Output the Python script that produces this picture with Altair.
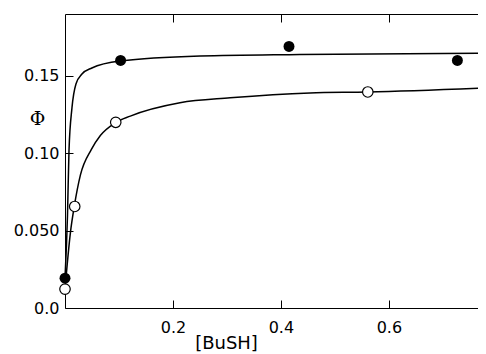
import altair as alt
import pandas as pd

# Measured data points
filled_x = [0.0, 0.103, 0.415, 0.727]
filled_y = [0.0193, 0.160, 0.169, 0.160]
open_x = [0.0, 0.018, 0.094, 0.561]
open_y = [0.0122, 0.0656, 0.120, 0.1396]

# Fitted curves
fit_f_x = [0.0, 0.0046, 0.0074, 0.0129, 0.0203, 0.0314, 0.0498, 0.103, 0.251, 0.435, 0.779]
fit_f_y = [0.0193, 0.0598, 0.1017, 0.1293, 0.1448, 0.1512, 0.1551, 0.1596, 0.1628, 0.1638, 0.1647]
fit_o_x = [0.0, 0.0101, 0.0175, 0.0286, 0.0489, 0.0655, 0.0932, 0.121, 0.213, 0.306, 0.454, 0.561, 0.778]
fit_o_y = [0.0122, 0.0489, 0.0663, 0.086, 0.1025, 0.1115, 0.1197, 0.1240, 0.1326, 0.1358, 0.139, 0.1396, 0.1422]

x_ticks = [0.2, 0.4, 0.6]
y_ticks = [0.0, 0.05, 0.10, 0.15]
y_ticks_right = [0.05, 0.10, 0.15]

df_f = pd.DataFrame({"x": filled_x, "y": filled_y})
df_o = pd.DataFrame({"x": open_x, "y": open_y})
df_cf = pd.DataFrame({"x": fit_f_x, "y": fit_f_y})
df_co = pd.DataFrame({"x": fit_o_x, "y": fit_o_y})

xs = alt.Scale(domain=[0, 0.78], nice=False, zero=False)
ys = alt.Scale(domain=[0, 0.19], nice=False, zero=False)

common = dict(domain=False, grid=False, tickSize=8, offset=-8, tickColor="black",
              tickWidth=1, labelColor="black", labelFont="DejaVu Sans", labelFontSize=16)

x_bottom = alt.X("x:Q", scale=xs, axis=alt.Axis(
    orient="bottom", values=x_ticks, format=".1f", labelPadding=11,
    title="[BuSH]", titleFont="DejaVu Sans", titleFontSize=18, titleFontWeight="normal",
    titleColor="black", titleX=161, titleY=43, titleAlign="center", titleBaseline="middle",
    **common))
y_left = alt.Y("y:Q", scale=ys, axis=alt.Axis(
    orient="left", values=y_ticks, labelPadding=6,
    labelExpr="datum.value == 0 ? '0.0' : (datum.value == 0.05 ? '0.050' : format(datum.value, '.2f'))",
    title="Φ", titleFont="DejaVu Serif", titleFontSize=19, titleFontWeight="normal",
    titleColor="black", titleAngle=0, titleX=-36, titleY=104, titleAlign="center",
    titleBaseline="middle", **common))

x_top = alt.X("x:Q", scale=xs, title=None, axis=alt.Axis(
    orient="top", values=x_ticks, labels=False, **common))
y_right = alt.Y("y:Q", scale=ys, title=None, axis=alt.Axis(
    orient="right", values=y_ticks_right, labels=False, **common))

curve_f = alt.Chart(df_cf).mark_line(color="black", strokeWidth=1.5, interpolate="monotone").encode(
    x=x_bottom, y=y_left)
curve_o = alt.Chart(df_co).mark_line(color="black", strokeWidth=1.5, interpolate="monotone").encode(
    x=alt.X("x:Q", scale=xs), y=alt.Y("y:Q", scale=ys))
pts_f = alt.Chart(df_f).mark_point(shape="circle", filled=True, color="black", size=120, opacity=1).encode(
    x=alt.X("x:Q", scale=xs), y=alt.Y("y:Q", scale=ys))
pts_o = alt.Chart(df_o).mark_point(shape="circle", filled=True, fill="white", stroke="black",
                                   strokeWidth=1.2, size=110, opacity=1).encode(
    x=alt.X("x:Q", scale=xs), y=alt.Y("y:Q", scale=ys))

main = alt.layer(curve_f, curve_o, pts_o, pts_f)
ghost = alt.Chart(df_f).mark_point(opacity=0).encode(x=x_top, y=y_right)

chart = alt.layer(main, ghost).resolve_axis(x="independent", y="independent").properties(
    width=421, height=294,
    autosize=alt.AutoSizeParams(type="none"),
    padding={"left": 57, "top": 6, "right": -8, "bottom": 46},
    background="white",
).configure_view(stroke="black", strokeWidth=1)

chart.save("out.html", embed_options={"renderer": "svg", "actions": False})
